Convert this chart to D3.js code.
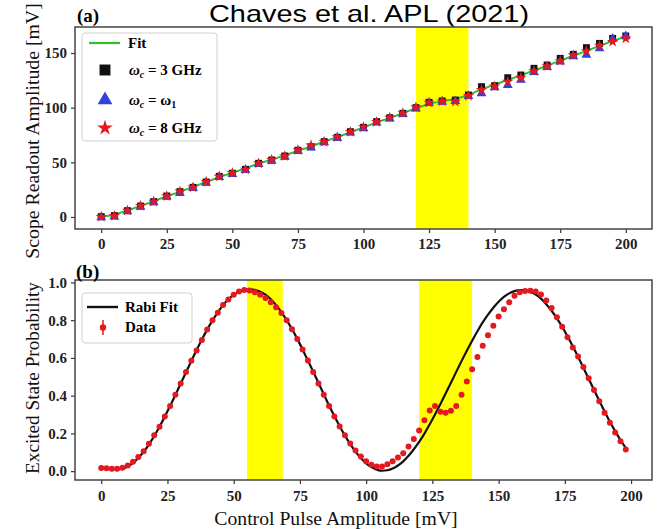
<!DOCTYPE html>
<html>
<head>
<meta charset="utf-8">
<script src="https://cdn.jsdelivr.net/npm/d3@7"></script>
<style>
  body { margin: 0; background: #fff; }
  svg { display: block; }
</style>
</head>
<body>
<svg id="chart"></svg>
<script>
// (a) readout amplitude vs control pulse amplitude
var ctrlAmp = [0, 5, 10, 15, 20, 25, 30, 35, 40, 45, 50, 55, 60, 65, 70, 75, 80, 85, 90, 95,
               100, 105, 110, 115, 120, 125, 130, 135, 140, 145, 150, 155, 160, 165, 170, 175, 180, 185, 190, 195, 200];
var scope3GHz = [0.3, 1.2, 5.8, 10, 14, 19.2, 23.2, 27.1, 32, 37.2, 40, 43.6, 49.1, 52.1, 55.8, 61, 64.3, 68.9, 72.9, 78,
                 82, 87.2, 90.8, 94.8, 100, 104.9, 106.1, 107, 111.6, 119.2, 120.1, 127.4, 129.9, 136, 139, 145.1, 148.8, 154.9, 158.8, 163.4, 165.6];
var scopeW1 = [-0.5, 0.3, 5, 9.3, 13.3, 18.4, 21.8, 26.3, 31.2, 36.4, 39.2, 42.9, 48.3, 51.2, 55, 60.3, 63.5, 68.2, 72, 77.2,
               81, 86.4, 90, 94, 99.2, 104.2, 105.3, 106, 110.5, 113.1, 118.5, 120.7, 125.3, 132.5, 137, 142, 147, 148.2, 154.3, 163, 165.5];
var scope8GHz = [0.2, 1, 5.9, 10.2, 14.1, 19, 23.4, 27, 32.2, 37, 40.3, 43.4, 49, 52.3, 55.6, 61.2, 65.6, 68.7, 73, 77.8,
                 82.2, 87, 91, 95, 100.2, 104.6, 105.8, 105.5, 110.8, 116.2, 119.5, 123.8, 127.4, 133.5, 138, 142.7, 148, 151.8, 156.7, 160.3, 163.4];
var scopeFit = [0, 2, 6, 10, 14.5, 19, 23, 27.5, 32, 36.5, 40.5, 44.5, 49, 52.5, 56.5, 60.5, 64.5, 69, 73, 77.5,
                82, 86.5, 90.5, 95, 99.5, 103.5, 106, 108, 111.5, 117, 121, 125.5, 129.5, 134, 138.5, 143, 147.5, 152, 156.5, 161, 165];
var bandsA = [[120, 140]];
var ticksA_x = [0, 25, 50, 75, 100, 125, 150, 175, 200];
var ticksA_y = [0, 50, 100, 150];

// (b) Rabi oscillation
var pulseAmp = [0, 2, 4, 6, 8, 10, 12, 14, 16, 18, 20, 22, 24, 26, 28, 30, 32, 34, 36, 38,
                40, 42, 44, 46, 48, 50, 52, 54, 56, 58, 60, 62, 64, 66, 68, 70, 72, 74, 76, 78,
                80, 82, 84, 86, 88, 90, 92, 94, 96, 98, 100, 102, 104, 106, 108, 110, 112, 114, 116, 118,
                120, 122, 124, 126, 128, 130, 132, 134, 136, 138, 140, 142, 144, 146, 148, 150, 152, 154, 156, 158,
                160, 162, 164, 166, 168, 170, 172, 174, 176, 178, 180, 182, 184, 186, 188, 190, 192, 194, 196, 198];
var rabiData = [0.016, 0.015, 0.012, 0.013, 0.018, 0.03, 0.05, 0.075, 0.105, 0.145, 0.19, 0.235, 0.29, 0.345, 0.405, 0.465, 0.525, 0.585, 0.64, 0.695,
                0.75, 0.8, 0.84, 0.88, 0.91, 0.935, 0.952, 0.96, 0.958, 0.948, 0.935, 0.918, 0.895, 0.868, 0.838, 0.8, 0.752, 0.7, 0.645, 0.586,
                0.526, 0.465, 0.405, 0.345, 0.29, 0.237, 0.19, 0.147, 0.11, 0.078, 0.052, 0.034, 0.024, 0.025, 0.036, 0.052, 0.072, 0.095, 0.13, 0.17,
                0.215, 0.27, 0.322, 0.345, 0.315, 0.31, 0.32, 0.345, 0.405, 0.475, 0.54, 0.605, 0.665, 0.72, 0.77, 0.82, 0.858, 0.895, 0.93, 0.948,
                0.955, 0.956, 0.952, 0.936, 0.905, 0.865, 0.815, 0.765, 0.71, 0.655, 0.607, 0.552, 0.492, 0.43, 0.37, 0.31, 0.256, 0.205, 0.158, 0.115];
var rabiFit = [0.02, 0.014, 0.01, 0.01, 0.014, 0.025, 0.044, 0.07, 0.103, 0.141, 0.186, 0.235, 0.289, 0.345, 0.404, 0.464, 0.524, 0.584, 0.642, 0.698,
               0.75, 0.799, 0.842, 0.88, 0.911, 0.934, 0.951, 0.961, 0.963, 0.961, 0.951, 0.935, 0.911, 0.88, 0.843, 0.8, 0.753, 0.701, 0.645, 0.587,
               0.528, 0.468, 0.408, 0.348, 0.292, 0.238, 0.188, 0.143, 0.103, 0.069, 0.041, 0.021, 0.008, 0.002, 0.0045, 0.014, 0.03, 0.052, 0.081, 0.116,
               0.155, 0.199, 0.248, 0.3, 0.355, 0.411, 0.468, 0.526, 0.583, 0.638, 0.691, 0.741, 0.788, 0.829, 0.866, 0.898, 0.923, 0.942, 0.954, 0.96,
               0.959, 0.951, 0.936, 0.914, 0.885, 0.85, 0.81, 0.765, 0.715, 0.662, 0.606, 0.548, 0.49, 0.431, 0.373, 0.316, 0.262, 0.212, 0.165, 0.123];
var rabiErr = 0.012;
var bandsB = [[55, 68.5], [120, 140]];
var ticksB_x = [0, 25, 50, 75, 100, 125, 150, 175, 200];
var ticksB_y = [0, 0.2, 0.4, 0.6, 0.8, 1.0];

var serif = "'Liberation Serif', 'Times New Roman', serif";
var red = "#e3191f", blue = "#3042dc", green = "#2fbf2f";

var svg = d3.select("#chart")
    .attr("width", 658)
    .attr("height", 529);

var frame = {left: 75, right: 652};
var boxA = {top: 27, bottom: 229};
var boxB = {top: 280, bottom: 480};

var xA = d3.scaleLinear().domain([-10, 210]).range([frame.left, frame.right]);
var yA = d3.scaleLinear().domain([-11, 173.8]).range([boxA.bottom, boxA.top]);
var xB = d3.scaleLinear().domain([-9.9, 207.9]).range([frame.left, frame.right]);
var yB = d3.scaleLinear().domain([-0.047, 1.013]).range([boxB.bottom, boxB.top]);

var defs = svg.append("defs");
[["clipA", boxA], ["clipB", boxB]].forEach(function(c) {
  defs.append("clipPath").attr("id", c[0])
    .append("rect")
      .attr("x", frame.left).attr("y", c[1].top)
      .attr("width", frame.right - frame.left)
      .attr("height", c[1].bottom - c[1].top);
});

// title (kept just inside the top edge)
svg.append("text")
    .attr("x", 369).attr("y", 22)
    .attr("text-anchor", "middle")
    .attr("textLength", 320)
    .attr("lengthAdjust", "spacingAndGlyphs")
    .style("font-family", "'Liberation Sans', Arial, sans-serif")
    .style("font-size", "24px")
    .style("fill", "#000")
    .text("Chaves et al. APL (2021)");

function styleAxis(g) {
  g.select(".domain").remove();
  g.selectAll(".tick line").attr("stroke", "#333").attr("stroke-width", 1.2);
  g.selectAll(".tick text")
    .style("font-family", serif)
    .style("font-size", "15px")
    .style("font-weight", "bold")
    .style("fill", "#222");
}

function bands(data, x, box, clip) {
  svg.append("g").attr("clip-path", "url(#" + clip + ")")
    .selectAll("rect")
    .data(data)
    .enter()
    .append("rect")
      .attr("x", function(d) { return x(d[0]); })
      .attr("width", function(d) { return x(d[1]) - x(d[0]); })
      .attr("y", box.top)
      .attr("height", box.bottom - box.top)
      .style("fill", "#ffff00");
}

// ---------- panel (a) ----------
bands(bandsA, xA, boxA, "clipA");

var plotA = svg.append("g").attr("clip-path", "url(#clipA)");

plotA.append("path")
    .datum(scopeFit)
    .attr("fill", "none")
    .attr("stroke", green)
    .attr("stroke-width", 2)
    .attr("d", d3.line()
      .x(function(d, i) { return xA(ctrlAmp[i]); })
      .y(function(d) { return yA(d); }));

var series = [
  {vals: scope3GHz, type: d3.symbolSquare, size: 48, color: "#111"},
  {vals: scopeW1, type: d3.symbolTriangle, size: 42, color: blue},
  {vals: scope8GHz, type: d3.symbolStar, size: 40, color: red}
];
series.forEach(function(s) {
  plotA.append("g")
    .selectAll("path")
    .data(s.vals)
    .enter()
    .append("path")
      .attr("transform", function(d, i) { return "translate(" + xA(ctrlAmp[i]) + "," + yA(d) + ")"; })
      .attr("d", d3.symbol().type(s.type).size(s.size))
      .style("fill", s.color);
});

svg.append("g")
    .attr("transform", "translate(0," + boxA.bottom + ")")
    .call(d3.axisBottom(xA).tickValues(ticksA_x).tickSize(4).tickPadding(5))
    .call(styleAxis);
svg.append("g")
    .attr("transform", "translate(" + frame.left + ",0)")
    .call(d3.axisLeft(yA).tickValues(ticksA_y).tickSize(4).tickPadding(4))
    .call(styleAxis);

svg.append("rect")
    .attr("x", frame.left).attr("y", boxA.top)
    .attr("width", frame.right - frame.left).attr("height", boxA.bottom - boxA.top)
    .style("fill", "none").style("stroke", "#444").style("stroke-width", 1.5);

// legend (a)
var legA = svg.append("g");
legA.append("rect")
    .attr("x", 82).attr("y", 33).attr("width", 135).attr("height", 108).attr("rx", 3)
    .style("fill", "#fff").style("stroke", "#d0d0d0");
legA.append("line")
    .attr("x1", 89).attr("x2", 120).attr("y1", 43).attr("y2", 43)
    .style("stroke", green).style("stroke-width", 2.2);
var legRows = [
  {y: 70, type: d3.symbolSquare, size: 120, color: "#111", sub: "c", rest: " = 3 GHz"},
  {y: 100, type: d3.symbolTriangle, size: 95, color: blue, sub: "c", rest: " =  ω"},
  {y: 128, type: d3.symbolStar, size: 75, color: red, sub: "c", rest: " = 8 GHz"}
];
legA.append("text")
    .attr("x", 128).attr("y", 48)
    .style("font-family", serif).style("font-size", "15px").style("font-weight", "bold")
    .text("Fit");
legRows.forEach(function(r, k) {
  legA.append("path")
      .attr("transform", "translate(105," + r.y + ")")
      .attr("d", d3.symbol().type(r.type).size(r.size))
      .style("fill", r.color);
  var t = legA.append("text")
      .attr("x", 129).attr("y", r.y + 5)
      .style("font-family", serif).style("font-size", "15px").style("font-weight", "bold");
  t.append("tspan").style("font-style", "italic").text("ω");
  t.append("tspan").attr("dy", 3).style("font-size", "10px").style("font-style", "italic").text(r.sub);
  t.append("tspan").attr("dy", -3).text(r.rest);
  if (k === 1) {
    t.append("tspan").attr("dy", 3).style("font-size", "10px").text("1");
  }
});

svg.append("text")
    .attr("x", 77).attr("y", 21.5)
    .style("font-family", serif).style("font-size", "19px").style("font-weight", "bold")
    .text("(a)");

svg.append("text")
    .attr("transform", "translate(39,131) rotate(-90)")
    .attr("text-anchor", "middle")
    .style("font-family", serif).style("font-size", "19.8px").style("fill", "#111")
    .text("Scope Readout Amplitude [mV]");

// ---------- panel (b) ----------
bands(bandsB, xB, boxB, "clipB");

var plotB = svg.append("g").attr("clip-path", "url(#clipB)");

plotB.append("path")
    .datum(rabiFit)
    .attr("fill", "none")
    .attr("stroke", "#111")
    .attr("stroke-width", 2.2)
    .attr("d", d3.line()
      .curve(d3.curveMonotoneX)
      .x(function(d, i) { return xB(pulseAmp[i]); })
      .y(function(d) { return yB(d); }));

plotB.append("g")
    .selectAll("line")
    .data(rabiData)
    .enter()
    .append("line")
      .attr("x1", function(d, i) { return xB(pulseAmp[i]); })
      .attr("x2", function(d, i) { return xB(pulseAmp[i]); })
      .attr("y1", function(d) { return yB(d - rabiErr); })
      .attr("y2", function(d) { return yB(d + rabiErr); })
      .style("stroke", red).style("stroke-width", 1.3);

plotB.append("g")
    .selectAll("circle")
    .data(rabiData)
    .enter()
    .append("circle")
      .attr("cx", function(d, i) { return xB(pulseAmp[i]); })
      .attr("cy", function(d) { return yB(d); })
      .attr("r", 3)
      .style("fill", red);

svg.append("g")
    .attr("transform", "translate(0," + boxB.bottom + ")")
    .call(d3.axisBottom(xB).tickValues(ticksB_x).tickSize(4).tickPadding(6))
    .call(styleAxis);
svg.append("g")
    .attr("transform", "translate(" + frame.left + ",0)")
    .call(d3.axisLeft(yB).tickValues(ticksB_y).tickSize(4).tickPadding(4).tickFormat(d3.format(".1f")))
    .call(styleAxis);

svg.append("rect")
    .attr("x", frame.left).attr("y", boxB.top)
    .attr("width", frame.right - frame.left).attr("height", boxB.bottom - boxB.top)
    .style("fill", "none").style("stroke", "#444").style("stroke-width", 1.5);

// legend (b)
var legB = svg.append("g");
legB.append("rect")
    .attr("x", 82).attr("y", 293).attr("width", 110).attr("height", 50).attr("rx", 3)
    .style("fill", "#fff").style("stroke", "#d0d0d0");
legB.append("line")
    .attr("x1", 87).attr("x2", 118).attr("y1", 307).attr("y2", 307)
    .style("stroke", "#111").style("stroke-width", 2.4);
legB.append("line")
    .attr("x1", 103).attr("x2", 103).attr("y1", 320).attr("y2", 335)
    .style("stroke", red).style("stroke-width", 1.5);
legB.append("circle")
    .attr("cx", 103).attr("cy", 327.5).attr("r", 3.2)
    .style("fill", red);
legB.append("text")
    .attr("x", 125).attr("y", 312)
    .style("font-family", serif).style("font-size", "15px").style("font-weight", "bold")
    .text("Rabi Fit");
legB.append("text")
    .attr("x", 125).attr("y", 332)
    .style("font-family", serif).style("font-size", "15px").style("font-weight", "bold")
    .text("Data");

svg.append("text")
    .attr("x", 76).attr("y", 277.5)
    .style("font-family", serif).style("font-size", "19px").style("font-weight", "bold")
    .text("(b)");

svg.append("text")
    .attr("transform", "translate(39,378) rotate(-90)")
    .attr("text-anchor", "middle")
    .style("font-family", serif).style("font-size", "19.2px").style("fill", "#111")
    .text("Excited State Probability");

svg.append("text")
    .attr("x", 336).attr("y", 525)
    .attr("text-anchor", "middle")
    .style("font-family", serif).style("font-size", "19.7px").style("fill", "#111")
    .text("Control Pulse Amplitude [mV]");
</script>
</body>
</html>
